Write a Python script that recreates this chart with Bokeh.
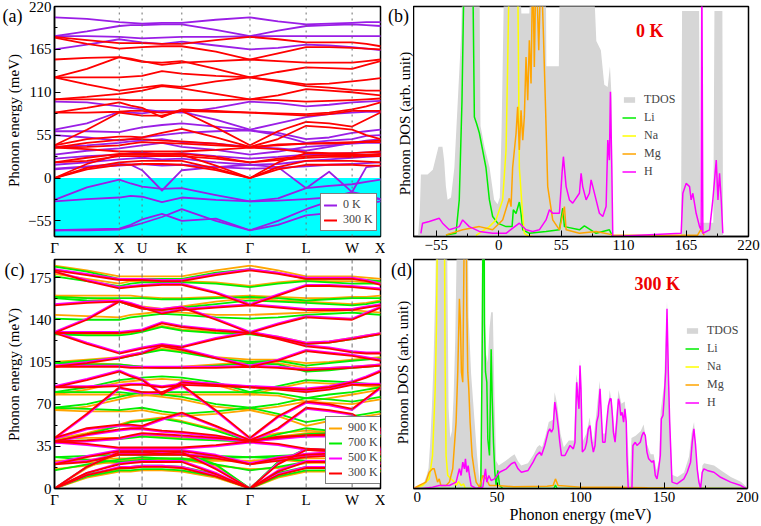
from bokeh.plotting import figure
from bokeh.models import (Range1d, FixedTicker, Span, Label, Legend, LegendItem,
                          ColumnDataSource, BoxAnnotation)
from bokeh.layouts import column, row
from bokeh.embed import file_html
from bokeh.resources import INLINE

FONT = "Liberation Serif"

# ---------------- high-symmetry path ----------------
KTICK = [0.0, 1.0, 1.352, 1.965, 3.017, 3.884, 4.594, 5.032]
KLABEL = ["Γ", "X", "U", "K", "Γ", "L", "W", "X"]
# sample points: G, mid, X, mid, U, mid, K, mid, G, mid, L, mid, W, mid, X
KPATH = [0.0, 0.5, 1.0, 1.176, 1.352, 1.659, 1.965, 2.491, 3.017, 3.45, 3.884, 4.239, 4.594, 4.813, 5.032]

# ---------------- bands (meV) ----------------
BANDS_0K = [
    [206, 204, 200, 199, 198, 199, 199, 203, 206, 201, 197, 198, 199, 200, 200],
    [182, 188, 195, 196, 196, 197, 197, 190, 182, 189, 195, 196, 197, 196, 195],
    [182, 182, 181, 180, 179, 180, 181, 181, 182, 182, 182, 182, 182, 182, 182],
    [165, 171, 178, 176, 174, 172, 175, 170, 165, 167, 171, 170, 168, 166, 164],
    [98, 97, 92, 90, 88, 85, 84, 90, 98, 96, 92, 94, 97, 98, 99],
    [62, 70, 85, 84, 83, 86, 85, 75, 62, 70, 78, 82, 84, 85, 85],
    [60, 60, 59, 62, 65, 68, 70, 66, 61, 58, 50, 52, 58, 60, 62],
    [55, 52, 48, 50, 52, 55, 58, 60, 61, 55, 45, 48, 50, 54, 55],
    [40, 42, 45, 47, 48, 50, 46, 44, 40, 38, 35, 40, 45, 48, 50],
    [30, 35, 38, 40, 42, 45, 40, 36, 30, 34, 40, 42, 44, 45, 45],
    [25, 28, 30, 32, 33, 30, 32, 28, 25, 27, 30, 31, 32, 33, 33],
    [17, 20, 24, 25, 26, 24, 25, 20, 17, 18, 22, 24, 26, 27, 28],
    [11, 14, 16, 17, 18, 16, 17, 14, 12, 13, 15, 17, 18, 19, 20],
    [12, 15, 18, 17, 10, -16, 10, 14, 17, 14, -13, 8, -18, 14, 16],
    [-28, -12, -2, -7, -11, -14, -13, -22, -30, -26, -13, -10, -8, -5, -2],
    [-30, -27, -25, -23, -24, -31, -25, -28, -30, -29, -27, -25, -18, -22, -27],
    [-67, -66, -65, -60, -53, -46, -55, -52, -67, -55, -40, -30, -22, -25, -27],
    [-67, -67, -66, -62, -58, -50, -40, -55, -67, -60, -48, -45, -38, -33, -30],
]

BANDS_300K = [
    [181, 177, 173, 173, 173, 172, 172, 177, 181, 178, 174, 174, 174, 172, 169],
    [180, 172, 166, 167, 168, 169, 169, 162, 152, 160, 168, 168, 167, 166, 165],
    [152, 154, 155, 153, 150, 145, 148, 150, 152, 150, 148, 148, 148, 150, 152],
    [129, 140, 155, 152, 149, 148, 150, 140, 129, 136, 142, 141, 140, 145, 150],
    [129, 129, 129, 130, 131, 137, 134, 131, 129, 125, 120, 121, 124, 126, 128],
    [129, 120, 112, 114, 116, 119, 117, 124, 129, 124, 118, 116, 113, 112, 112],
    [101, 104, 108, 110, 112, 118, 115, 108, 101, 106, 114, 112, 110, 108, 106],
    [101, 101, 101, 100, 100, 100, 100, 100, 101, 100, 98, 99, 100, 101, 102],
    [84, 90, 97, 93, 90, 78, 88, 86, 84, 83, 82, 84, 88, 92, 97],
    [84, 84, 85, 86, 86, 84, 86, 85, 84, 82, 80, 82, 86, 86, 86],
    [42, 62, 84, 82, 80, 80, 86, 65, 42, 60, 72, 70, 66, 75, 84],
    [42, 50, 53, 53, 52, 58, 63, 52, 40, 50, 67, 65, 62, 55, 50],
    [39, 45, 49, 50, 50, 48, 47, 44, 39, 43, 44, 44, 45, 47, 48],
    [39, 40, 42, 44, 46, 45, 44, 42, 40, 42, 44, 45, 46, 46, 46],
    [20, 26, 31, 31, 31, 31, 31, 27, 20, 25, 28, 29, 29, 30, 31],
    [20, 22, 28, 28, 28, 28, 28, 25, 20, 23, 26, 27, 27, 28, 28],
    [0, 18, 30, 30, 30, 29, 30, 16, 0, 20, 32, 31, 30, 29, 30],
    [0, 13, 20, 21, 22, 22, 22, 12, 0, 14, 22, 22, 22, 21, 20],
    [0, 11, 17, 17, 18, 18, 17, 10, 0, 11, 17, 17, 17, 16, 16],
    [39, 37, 34, 34, 34, 34, 34, 36, 39, 37, 33, 32, 32, 33, 34],
]

BANDS_500K = [
    [182, 178, 174, 174, 174, 173, 173, 178, 182, 179, 175, 175, 175, 173, 170],
    [180, 173, 167, 168, 169, 170, 170, 163, 153, 161, 169, 169, 168, 167, 166],
    [153, 155, 156, 154, 151, 146, 149, 151, 153, 151, 149, 149, 149, 151, 153],
    [130, 141, 156, 153, 150, 149, 151, 141, 130, 137, 143, 142, 141, 146, 151],
    [130, 130, 130, 131, 132, 138, 135, 132, 130, 126, 121, 122, 125, 127, 129],
    [130, 121, 113, 115, 117, 120, 118, 125, 130, 125, 119, 117, 114, 113, 113],
    [102, 105, 109, 111, 113, 119, 116, 109, 102, 107, 115, 113, 111, 109, 107],
    [102, 102, 102, 101, 101, 101, 101, 101, 102, 101, 99, 100, 101, 102, 103],
    [85, 91, 98, 94, 91, 79, 89, 87, 85, 84, 83, 85, 89, 93, 98],
    [85, 85, 86, 87, 87, 85, 87, 86, 85, 83, 81, 83, 87, 87, 87],
    [41, 61, 83, 81, 79, 79, 85, 64, 41, 59, 71, 69, 65, 74, 83],
    [41, 49, 52, 52, 51, 57, 62, 51, 39, 49, 66, 64, 61, 54, 49],
    [38, 44, 48, 49, 49, 47, 46, 43, 38, 42, 43, 43, 44, 46, 47],
    [38, 39, 41, 43, 45, 44, 43, 41, 39, 41, 43, 44, 45, 45, 45],
    [21, 27, 32, 32, 32, 32, 32, 28, 21, 26, 29, 30, 30, 31, 32],
    [21, 23, 29, 29, 29, 29, 29, 26, 21, 24, 27, 28, 28, 29, 29],
    [0, 18, 31, 31, 31, 30, 31, 17, 0, 21, 33, 32, 31, 30, 31],
    [0, 13, 21, 22, 23, 23, 23, 13, 0, 15, 23, 23, 23, 22, 21],
    [0, 11, 18, 18, 19, 19, 18, 11, 0, 12, 18, 18, 18, 17, 17],
    [38, 36, 33, 33, 33, 33, 33, 35, 38, 36, 32, 31, 31, 32, 33],
]

BANDS_700K = [
    [184, 180, 174, 174, 174, 174, 174, 179, 182, 179, 174, 174, 174, 173, 172],
    [176, 172, 168, 170, 171, 171, 171, 170, 167, 170, 172, 171, 170, 170, 170],
    [159, 158, 158, 158, 158, 157, 157, 158, 159, 158, 156, 157, 158, 158, 158],
    [158, 156, 155, 152, 150, 148, 150, 153, 156, 155, 154, 153, 152, 153, 155],
    [141, 140, 140, 142, 143, 145, 144, 142, 141, 142, 144, 145, 146, 145, 144],
    [128, 127, 127, 128, 130, 134, 131, 129, 128, 125, 120, 121, 124, 126, 128],
    [104, 106, 108, 110, 112, 115, 113, 108, 105, 106, 102, 104, 106, 107, 108],
    [104, 103, 103, 102, 101, 100, 100, 102, 104, 103, 97, 98, 100, 101, 102],
    [80, 84, 90, 91, 92, 93, 92, 88, 80, 85, 90, 89, 88, 87, 86],
    [80, 80, 80, 79, 79, 80, 80, 80, 80, 79, 75, 78, 80, 82, 84],
    [67, 70, 76, 78, 80, 78, 76, 70, 67, 70, 75, 74, 72, 74, 76],
    [67, 66, 65, 66, 67, 64, 62, 64, 67, 62, 55, 58, 60, 62, 64],
    [39, 45, 52, 55, 56, 58, 55, 48, 39, 45, 50, 48, 46, 45, 44],
    [39, 40, 41, 42, 43, 42, 41, 40, 39, 42, 45, 46, 46, 45, 45],
    [26, 27, 28, 28, 28, 28, 28, 27, 26, 27, 28, 28, 28, 28, 28],
    [15, 20, 24, 25, 26, 25, 25, 20, 15, 18, 22, 23, 24, 25, 26],
    [0, 18, 30, 31, 32, 31, 30, 20, 0, 22, 33, 32, 31, 30, 30],
    [0, 12, 17, 18, 19, 19, 18, 12, 0, 13, 18, 18, 18, 17, 17],
    [0, 10, 15, 15, 16, 16, 15, 10, 0, 10, 15, 15, 15, 15, 15],
    [26, 24, 22, 23, 24, 25, 24, 25, 26, 25, 23, 22, 22, 23, 24],
]

BANDS_900K = [
    [185, 181, 176, 176, 176, 176, 176, 181, 185, 181, 176, 176, 176, 175, 174],
    [178, 174, 170, 172, 172, 172, 172, 171, 168, 171, 173, 172, 172, 171, 171],
    [160, 160, 160, 160, 159, 158, 158, 159, 160, 159, 158, 158, 159, 159, 160],
    [160, 158, 156, 153, 151, 149, 151, 155, 158, 156, 155, 154, 153, 154, 156],
    [144, 143, 142, 144, 145, 147, 146, 144, 144, 145, 146, 147, 148, 147, 146],
    [129, 128, 128, 129, 131, 135, 132, 130, 129, 126, 121, 122, 125, 127, 129],
    [105, 107, 109, 111, 113, 116, 114, 109, 107, 107, 104, 105, 107, 108, 109],
    [105, 104, 103, 102, 101, 100, 101, 103, 105, 104, 100, 100, 101, 102, 103],
    [78, 82, 88, 89, 90, 91, 90, 86, 78, 83, 88, 87, 86, 85, 84],
    [78, 78, 78, 77, 77, 78, 78, 78, 78, 77, 72, 75, 78, 80, 82],
    [65, 68, 74, 76, 78, 76, 74, 68, 65, 68, 72, 71, 70, 72, 74],
    [65, 64, 64, 64, 65, 62, 60, 62, 65, 60, 52, 56, 58, 60, 62],
    [41, 46, 53, 56, 57, 59, 56, 49, 41, 46, 48, 47, 45, 44, 43],
    [41, 42, 42, 43, 44, 43, 42, 41, 41, 43, 46, 47, 47, 46, 46],
    [23, 24, 25, 25, 25, 25, 25, 24, 23, 24, 25, 25, 25, 25, 25],
    [16, 19, 23, 24, 25, 24, 24, 19, 16, 17, 21, 22, 23, 24, 25],
    [0, 17, 29, 30, 31, 30, 29, 19, 0, 21, 32, 31, 30, 29, 29],
    [0, 11, 16, 17, 18, 18, 17, 11, 0, 12, 17, 17, 17, 16, 16],
    [0, 9, 14, 14, 15, 15, 14, 9, 0, 9, 14, 14, 14, 14, 14],
    [23, 22, 21, 22, 23, 24, 23, 23, 23, 24, 22, 21, 21, 22, 23],
]

# ---------------- DOS 0 K (panel b) ----------------
TDOS0_E = [-71, -69.5, -68.5, -62.6, -58, -55, -53, -49.5, -48, -46.5, -45, -42, -39, -36, -33, -31.5,
           -17, -16, -12.5, -8, -4, -1, 1, 2.5, 4, 5, 18, 20, 27, 29, 41.5, 42, 53, 54, 83, 86, 90,
           93, 96, 98, 99.5, 100.5, 160.5, 161.5, 176.5, 177.5, 189, 190, 197, 197.6]
TDOS0_D = [0, 10, 27, 27, 29, 35, 39, 39, 33, 22, 16, 17, 30, 59, 88, 120,
           120, 48, 39, 30, 16, 14, 17, 45, 88, 120, 120, 97, 97, 120, 120, 74, 74, 120, 120, 85, 81,
           66, 65, 74, 60, 0, 0, 98, 98, 6, 6, 98, 98, 0]
LI0_E = [-46.4, -37.6, -34.7, -32.3, -30.3, -22.9, -21.4, -19.4, -17, -11.2, -8.2, -5.3, -0.9, 6.5,
         11.8, 12.9, 15.3, 18.2, 19.7, 21.2, 27, 41.7, 53.5, 56.4, 57.9, 71.1, 75.5, 85.8, 97.5, 99, 100.5]
LI0_D = [0.7, 1.4, 15.9, 59, 120, 120, 52, 49, 45, 30, 16, 8.7, 5.8, 4.3,
         4.3, 11.6, 10, 15, 10, 2.9, 1.4, 2.2, 2.9, 12.3, 4.3, 2.9, 4.6, 1.4, 2.9, 1.4, 0]
NA0_E = [-20, -8.2, -2.4, 3.5, 6.5, 7.9, 9.4, 16.7, 18.2, 21.2, 22.6, 25.6, 30]
NA0_D = [0.5, 4.3, 7.2, 15.9, 37.6, 73.7, 120, 120, 30, 8.7, 1.4, 0.3, 0]
MG0_E = [-46.4, -31.7, -17, -5.3, 3.5, 9.4, 10.9, 12.3, 15.3, 16.7, 18.2, 19.7, 21.2, 22.6, 24.1,
         25.6, 27, 28.5, 30, 31.4, 32.9, 35.3, 37.3, 39.4, 41.1, 43.2, 47.6, 53.5, 57.9, 59.4, 71.1,
         85.8, 100.5, 175, 178, 181]
MG0_D = [0.7, 2.9, 4.3, 2.9, 7.2, 16.6, 13, 30, 44.8, 56.4, 37.6, 54.9, 41.9, 52, 78,
         59.2, 85.3, 66.5, 120, 73.7, 120, 81, 120, 88, 59, 21.7, 7.2, 2.9, 13, 2.9, 1.4,
         2.2, 0.7, 0.5, 3, 0.5]
H0_E = [-68.5, -67, -61.1, -52.3, -49.4, -43.5, -34.7, -31.7, -25.9, -17, -5.3, 6.5, 18.2, 24.1, 30,
        35.8, 41.7, 44.7, 47.6, 53.5, 55.8, 57, 59.4, 62.3, 65.2, 71.1, 72.6, 74, 77, 79.9, 81.4,
        82.9, 85.8, 88.7, 91.7, 94.6, 96.1, 97.5, 98.4, 99.6, 100.5, 160.7, 162.2, 165.1, 168.1,
        169.5, 171, 173.9, 176.9, 178.3, 178.9, 179.8, 185.7, 188.6, 191.6, 193.1, 194.5, 196, 197.4]
H0_D = [1.4, 5.8, 6.5, 7.9, 5.8, 2.9, 4.3, 7.2, 4.3, 2.2, 1.4, 1.4, 5.8, 2.9, 2.2,
        2.9, 7.2, 11.6, 10.1, 10.1, 27.5, 34.7, 21.7, 15.9, 14.5, 18.8, 27.5, 21.7, 15.9, 18.8, 24.6,
        21.7, 15.9, 10.1, 8.7, 13, 41.9, 33.2, 62.9, 30.3, 0, 1.4, 18.8, 23.1, 21.7,
        15.9, 18.8, 10.1, 4.3, 2.9, 120, 1.4, 2.9, 15.9, 33.2, 15.9, 27.5, 15.9, 1.4]

# ---------------- DOS 300 K (panel d) ----------------
TDOS3_E = [0, 3, 6, 8, 9, 10, 11, 12, 13, 13.8, 20, 21, 22, 23, 24, 25, 26, 26.5, 32.5, 33, 34.5,
           36, 38, 39.5, 40.5, 41, 42.5, 43, 44.5, 45.5, 46.5, 47.5, 48.5, 49.5, 51, 55, 58.5, 60.5,
           62.5, 64.5, 68.5, 72, 74, 75.5, 77, 79, 81, 83.5, 84.5, 86, 88, 90, 93, 96, 97.5, 99, 99.7,
           101, 103.5, 105.5, 107.5, 109.5, 111.5, 113.3, 115, 117.5, 119, 120.5, 122.7, 124.5, 126.5,
           127.5, 128.5, 129.5, 130.5, 133, 136, 137.8, 139.5, 142, 143.8, 145.5, 147, 148, 150, 151.8,
           153.5, 154.8, 158, 162, 165, 166.5, 168, 169.5, 171, 172, 173, 174, 180, 184, 190, 196, 199, 200]
TDOS3_D = [0, 0.5, 2, 6, 9, 20, 35, 55, 85, 120, 120, 35, 22, 25, 40, 65, 110, 120, 120, 75, 50,
           35, 15, 3, 15, 120, 120, 60, 55, 70, 77, 77, 40, 12, 10, 12, 14, 15,
           12, 10, 11, 15, 18, 19, 18, 23, 29, 30, 42, 37, 24, 18, 21, 21, 50, 43, 57,
           20, 24, 31, 20, 33, 47, 24, 24, 43, 36, 24, 43, 37, 38,
           30, 18, 2, 22, 23, 25, 28, 20, 15, 15, 8, 12, 34, 45, 82,
           33, 6, 5, 7, 14, 24, 29, 12, 4, 2, 10, 11, 10, 8, 5, 3, 1, 0]
LI3_E = [0, 38, 40.3, 41.1, 41.7, 42.3, 42.5, 43.1, 43.9, 44.5, 45.5, 46.5, 47.1, 47.9, 48.7, 49.5,
         50.5, 51.5, 53.5, 84, 85, 86, 200]
LI3_D = [0, 0, 0.5, 58, 120, 120, 72, 51, 46.4, 21.7, 14.4, 60.8, 40, 20, 7.1, 1.3,
         7.9, 1.3, 0, 0, 1.5, 0, 0]
NA3_E = [0, 5.4, 9.4, 11.4, 13, 13.8, 14.4, 18.5, 18.9, 19.5, 20.5, 22.5, 24.5, 25.5, 27, 28.5, 30, 31, 35]
NA3_D = [0, 1.3, 4.2, 14.4, 43.5, 72.6, 120, 120, 58, 14.4, 5.7, 4.2, 2.8, 1.3, 3, 1.3, 2, 0, 0]
MG3_E = [0, 3.4, 7.4, 9.4, 11.4, 12.4, 13.4, 14.4, 15.4, 16.4, 19.5, 21.5, 23.5, 25.5, 26.5, 27.5,
         28.1, 28.7, 29.5, 30.5, 31.5, 31.9, 32.5, 33.1, 33.9, 35.1, 36.5, 37.5, 39.5, 41.5, 43.5,
         45.5, 49.5, 60, 80, 83.6, 85, 86.6, 100, 120, 140, 180, 200]
MG3_D = [0, 1.3, 2.8, 7.1, 8.6, 8.6, 5.7, 2.8, 4.2, 1.3, 1.3, 2.8, 8.6, 29, 50.8, 82.8,
         72.6, 50.8, 46.4, 120, 120, 79.9, 50.8, 43.5, 29, 14.4, 7.1, 2.8, 0.6, 5.7, 4.2,
         1.3, 1.3, 0.8, 1, 1.3, 4.2, 1.3, 0.6, 0.6, 0.3, 0, 0]
H3_E = [0, 5.4, 11.4, 15.4, 21.5, 25.5, 27.5, 28.5, 29.5, 30.5, 31.1, 31.9, 32.7, 33.5, 34.5, 37.5,
        41.5, 43.1, 43.9, 45.1, 46.5, 48.5, 51.5, 55.6, 58.6, 60.6, 62.6, 64.6, 68.6, 71.6, 73.6,
        75.6, 76.6, 78.6, 80.6, 81.6, 82.6, 83.6, 84.6, 85.6, 86.6, 87.6, 88.6, 90.7, 92.7, 93.7,
        95.7, 96.7, 97.7, 98.3, 99.1, 99.7, 100.3, 101.1, 102.7, 103.7, 104.7, 105.7, 106.7, 107.7,
        108.7, 109.7, 110.7, 111.7, 112.3, 113.3, 114.7, 115.7, 116.7, 117.7, 118.3, 119.1, 119.7,
        120.7, 121.7, 122.7, 123.3, 124.1, 124.9, 125.8, 126.6, 127.4, 127.8, 128.6, 130.8, 131.4,
        132.8, 133.8, 135.8, 136.8, 137.8, 138.8, 139.8, 140.8, 142.8, 143.8, 144.8, 145.8, 146.8,
        147.8, 148.4, 149.4, 150.2, 151, 151.8, 152.6, 153.4, 154.8, 157.8, 161.9, 163.9, 165.9,
        166.9, 167.9, 168.9, 169.9, 170.9, 171.9, 172.9, 173.9, 175.9, 179.9, 183.9, 189.9, 196, 199]
H3_D = [0, 0, 0.6, 1.3, 1.3, 2.8, 8.6, 5.7, 11.5, 8.6, 13, 7.1, 10, 5.7, 1.3, 0,
        0.6, 8.6, 2.8, 5.7, 3.5, 4.2, 7.1, 8.6, 10.8, 11.5, 8.6, 7.1, 7.9, 11.5, 14.4,
        15.9, 14.4, 18.8, 24.6, 26.1, 24.6, 26.1, 37.7, 33.3, 27.5, 20.2, 14.4, 14.4, 17.3, 18.8,
        17.3, 20.2, 46.4, 40.6, 34.8, 53.7, 43.5, 15.9, 17.3, 20.2, 26.1, 27.5, 20.2, 15.9,
        18.8, 29, 31.9, 43.5, 34.8, 20.2, 20.2, 29, 36.2, 39.2, 39.2, 31.9, 24.6,
        20.2, 29, 39.2, 37.7, 31.9, 33.3, 29, 34.8, 29, 14.4, 0, 0, 18.8,
        20.2, 18.8, 20.2, 23.1, 24.6, 23.1, 15.9, 13, 11.5, 12.2, 5.7, 4.2, 8.6,
        14.4, 30.4, 31.9, 40.6, 50.8, 78.5, 50.8, 29, 2.8, 2, 4.2, 7.1, 11.5,
        20.2, 26.1, 18.8, 8.6, 2.8, 0, 7.1, 8.6, 7.9, 7.1, 4.9, 2.8, 1.3, 0]

# ---------------- colours ----------------
C_PURPLE = "#9a1ee6"
C_RED = "#ff0000"
C_MAG = "#ff00ff"
C_GREEN = "#00ee00"
C_ORANGE = "#ffa500"
C_YELLOW = "#ffff00"
C_GREY = "#d6d6d6"
C_CYAN = "#00ffff"

# row geometry (frames of all figures in one row are aligned by the layout)
ROW1_H, ROW1_TOP, ROW1_BOT = 258, 6, 21
ROW2_H, ROW2_TOP, ROW2_BOT = 268, 1, 38


def style(p, tick_font="15px"):
    p.outline_line_color = "black"
    p.outline_line_width = 1.5
    p.xgrid.visible = False
    p.ygrid.visible = False
    p.background_fill_color = "white"
    p.border_fill_color = "white"
    for ax in p.axis:
        ax.major_label_text_font = FONT
        ax.major_label_text_font_size = tick_font
        ax.major_label_text_color = "black"
        ax.axis_label_text_font = FONT
        ax.axis_label_text_font_size = "16px"
        ax.axis_label_text_font_style = "normal"
        ax.axis_label_text_color = "black"
        ax.major_tick_in = 6
        ax.major_tick_out = 0
        ax.minor_tick_in = 3
        ax.minor_tick_out = 0
        ax.axis_line_color = "black"
        ax.axis_line_width = 1.5
        ax.major_label_standoff = 3
        ax.axis_label_standoff = 2


def side_column(width, height, top, bot, letter, lx, ly, ylabel, yx, yy):
    """Narrow strip left of a panel carrying the panel letter and the y-axis title.
    Its frame is aligned with the panel frame (top..height-bot); positions are given
    as distances from the top of the row and converted to frame coordinates."""
    s = figure(width=width, height=height, output_backend="svg", toolbar_location=None,
               x_range=Range1d(0, 1), y_range=Range1d(0, 1),
               x_axis_location=None, y_axis_location=None,
               min_border_left=0, min_border_right=0, min_border_top=top, min_border_bottom=bot)
    s.outline_line_color = None
    s.xgrid.visible = False
    s.ygrid.visible = False
    fb = height - bot  # frame bottom, measured from the row top
    s.add_layout(Label(x=lx, y=fb - ly, x_units="screen", y_units="screen", text=letter,
                       text_font=FONT, text_font_size="18px", text_color="black",
                       text_align="center", text_baseline="middle"))
    s.add_layout(Label(x=yx, y=fb - yy, x_units="screen", y_units="screen", text=ylabel,
                       text_font=FONT, text_font_size="15px", text_color="black",
                       text_align="center", text_baseline="middle", angle=90, angle_units="deg"))
    return s


def band_panel(width, height, borders, yr, yticks, yminor, dash):
    p = figure(width=width, height=height, output_backend="svg", toolbar_location=None,
               x_range=Range1d(KTICK[0], KTICK[-1]), y_range=Range1d(*yr),
               min_border_left=borders[0], min_border_right=borders[1],
               min_border_top=borders[2], min_border_bottom=borders[3])
    p.xaxis.ticker = FixedTicker(ticks=KTICK)
    p.xaxis.major_label_overrides = {k: l for k, l in zip(KTICK, KLABEL)}
    p.yaxis.ticker = FixedTicker(ticks=yticks, minor_ticks=yminor)
    style(p)
    p.xaxis.major_tick_in = 0
    for k in KTICK[1:-1]:
        p.add_layout(Span(location=k, dimension="height", line_color="#707070",
                          line_dash=dash, line_width=1))
    return p


def dos_panel(width, height, borders, xr, xticks, xminor):
    p = figure(width=width, height=height, output_backend="svg", toolbar_location=None,
               x_range=Range1d(*xr), y_range=Range1d(0, 100), y_axis_location=None,
               min_border_left=borders[0], min_border_right=borders[1],
               min_border_top=borders[2], min_border_bottom=borders[3])
    p.xaxis.ticker = FixedTicker(ticks=xticks, minor_ticks=xminor)
    style(p)
    return p


def add_bands(p, bands, color, width=1.8):
    src = ColumnDataSource(dict(xs=[KPATH] * len(bands), ys=bands))
    return p.multi_line("xs", "ys", source=src, line_color=color, line_width=width,
                        line_join="round", line_cap="round")


def legend(p, items, loc, dashed=False, border=True, lh=12, gh=12, gw=13, fs="12px", spacing=0,
           pad=3, standoff=6):
    lg = Legend(items=[LegendItem(label=l, renderers=[r]) for l, r in items], location=loc,
                label_text_font=FONT, label_text_font_size=fs, glyph_width=gw, glyph_height=gh,
                label_height=lh, spacing=spacing, padding=pad, margin=0, label_standoff=standoff,
                background_fill_color="white", background_fill_alpha=1.0 if border else 0.0,
                border_line_color="black" if border else None, border_line_width=1.2)
    if dashed:
        lg.border_line_dash = "dashed"
    p.add_layout(lg)


# ---------------- panel (a) ----------------
sa = side_column(25, ROW1_H, ROW1_TOP, ROW1_BOT, "(a)", 12, 16, "Phonon energy (meV)", 13, 121)
pa = band_panel(360, ROW1_H, (26, 5, ROW1_TOP, ROW1_BOT), (-75, 220), [-55, 0, 55, 110, 165, 220],
                [-27.5, 27.5, 82.5, 137.5, 192.5], "dotted")
pa.add_layout(BoxAnnotation(top=0, fill_color=C_CYAN, fill_alpha=1.0, line_color=None, level="underlay"))
r_p0 = add_bands(pa, BANDS_0K, C_PURPLE)
r_r3 = add_bands(pa, BANDS_300K, C_RED)
legend(pa, [("0 K", r_p0), ("300 K", r_r3)], (266, 5), dashed=True, lh=13, gh=12)

# ---------------- panel (b) ----------------
sb = side_column(28, ROW1_H, ROW1_TOP, ROW1_BOT, "(b)", 13, 16, "Phonon DOS (arb. unit)", 19, 124)
pb = dos_panel(348, ROW1_H, (0, 13, ROW1_TOP, ROW1_BOT), (-75, 220), [-55, 0, 55, 110, 165, 220],
               [-27.5, 27.5, 82.5, 137.5, 192.5])
r_tb = pb.varea(x=TDOS0_E, y1=0, y2=TDOS0_D, fill_color=C_GREY)
l_li = pb.line(LI0_E, LI0_D, line_color=C_GREEN, line_width=1.5)
l_na = pb.line(NA0_E, NA0_D, line_color=C_YELLOW, line_width=1.5)
l_mg = pb.line(MG0_E, MG0_D, line_color=C_ORANGE, line_width=1.5)
l_h = pb.line(H0_E, H0_D, line_color=C_MAG, line_width=1.5)
legend(pb, [("TDOS", r_tb), ("Li", l_li), ("Na", l_na), ("Mg", l_mg), ("H", l_h)], (209, 57),
       border=False, lh=16, gh=7, spacing=2, gw=14, fs="12px", pad=2, standoff=8)
pb.add_layout(Label(x=133, y=89.5, text="0 K", text_font=FONT, text_font_size="18px",
                    text_font_style="bold", text_color="#ee0000", text_align="center",
                    text_baseline="middle"))

# ---------------- panel (c) ----------------
sc = side_column(25, ROW2_H, ROW2_TOP, ROW2_BOT, "(c)", 14, 11, "Phonon energy (meV)", 13, 116)
pc = band_panel(360, ROW2_H, (26, 5, ROW2_TOP, ROW2_BOT), (0, 190), [0, 35, 70, 105, 140, 175],
                [17.5, 52.5, 87.5, 122.5, 157.5], "4 3")
r9 = add_bands(pc, BANDS_900K, C_ORANGE)
r7 = add_bands(pc, BANDS_700K, C_GREEN)
r5 = add_bands(pc, BANDS_500K, C_MAG)
r3 = add_bands(pc, BANDS_300K, C_RED)
legend(pc, [("900 K", r9), ("700 K", r7), ("500 K", r5), ("300 K", r3)], (271, 4), lh=13, gh=12)

# ---------------- panel (d) ----------------
sd = side_column(28, ROW2_H, ROW2_TOP, ROW2_BOT, "(d)", 16, 11, "Phonon DOS (arb. unit)", 17, 114)
pd_ = dos_panel(348, ROW2_H, (0, 14, ROW2_TOP, ROW2_BOT), (0, 200), [0, 50, 100, 150, 200],
                [25, 75, 125, 175])
r_td = pd_.varea(x=TDOS3_E, y1=0, y2=TDOS3_D, fill_color=C_GREY)
d_na = pd_.line(NA3_E, NA3_D, line_color=C_YELLOW, line_width=1.5)
d_li = pd_.line(LI3_E, LI3_D, line_color=C_GREEN, line_width=1.5)
d_mg = pd_.line(MG3_E, MG3_D, line_color=C_ORANGE, line_width=1.5)
d_h = pd_.line(H3_E, H3_D, line_color=C_MAG, line_width=1.5)
pd_.xaxis.axis_label = "Phonon energy (meV)"
pd_.xaxis.axis_label_standoff = 1
legend(pd_, [("TDOS", r_td), ("Li", d_li), ("Na", d_na), ("Mg", d_mg), ("H", d_h)], (272, 78),
       border=False, lh=16, gh=7, spacing=2, gw=14, fs="12px", pad=2, standoff=8)
pd_.add_layout(Label(x=146, y=89.5, text="300 K", text_font=FONT, text_font_size="18px",
                     text_font_style="bold", text_color="#ee0000", text_align="center",
                     text_baseline="middle"))

layout = column(row(sa, pa, sb, pb), row(sc, pc, sd, pd_))
open("out.html", "w").write(file_html(layout, INLINE))
